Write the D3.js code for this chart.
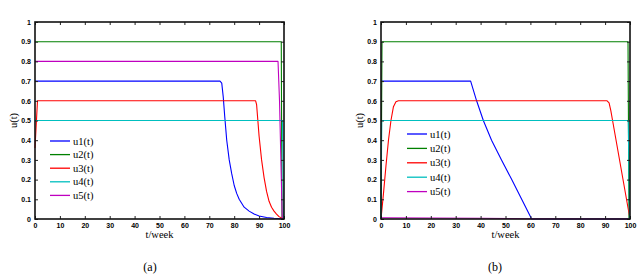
<!DOCTYPE html>
<html>
<head>
<meta charset="utf-8">
<script src="https://cdn.jsdelivr.net/npm/d3@7"></script>
<style>
  body { margin: 0; background: #fff; }
  .tick text { font-family: "Liberation Sans", Arial, sans-serif; font-weight: bold; font-size: 7px; }
  .lab { font-family: "Liberation Serif", "Times New Roman", serif; font-size: 10.5px; }
</style>
</head>
<body>
<div id="chart"></div>
<script>
// x ticks / y ticks
var xTicks = [0, 10, 20, 30, 40, 50, 60, 70, 80, 90, 100];
var yTicks = [0, 0.1, 0.2, 0.3, 0.4, 0.5, 0.6, 0.7, 0.8, 0.9, 1];
var seriesNames = ["u1(t)", "u2(t)", "u3(t)", "u4(t)", "u5(t)"];
var colors = ["#0000ff", "#008000", "#ff0000", "#00bfbf", "#bf00bf"];

// panel (a) - [t, u]
var a_u1 = [[0,0.7],[74.3,0.7],[75,0.69],[75.6,0.62],[76.2,0.52],[77,0.4],[78,0.3],[79,0.23],[80,0.17],[81,0.13],[82,0.1],[84,0.06],[86,0.04],[88,0.025],[90,0.015],[93,0.008],[96,0.004],[100,0]];
var a_u2 = [[0,0.9],[98.9,0.9],[99.2,0],[100,0]];
var a_u3 = [[0,0.36],[1,0.6],[88.6,0.6],[89,0.58],[89.5,0.5],[90,0.42],[91,0.3],[92,0.21],[93,0.14],[94,0.09],[95,0.06],[96,0.04],[97,0.025],[98,0.012],[99,0.005],[100,0]];
var a_u4 = [[0,0.5],[99.4,0.5],[99.8,0],[100,0]];
var a_u5 = [[0,0.8],[97.6,0.8],[98.2,0.6],[99.3,0],[100,0]];

// panel (b)
var b_u1 = [[0,0.7],[36,0.7],[38.4,0.6],[41.1,0.5],[44.4,0.4],[48.4,0.3],[52.5,0.2],[56.5,0.1],[60.5,0],[100,0]];
var b_u2 = [[0,0],[0.4,0.9],[99.2,0.9],[99.6,0],[100,0]];
var b_u3 = [[0,0],[1,0.13],[2,0.27],[3,0.4],[4,0.5],[5,0.57],[6,0.595],[7,0.6],[90.8,0.6],[91.6,0.59],[92.3,0.55],[93,0.5],[100,0]];
var b_u4 = [[0,0],[0.3,0.5],[99.3,0.5],[99.8,0],[100,0]];
var b_u5 = [[0,0.006],[20,0.005],[40,0.004],[60,0.001],[100,0]];

var panels = [
  {left: 35, right: 284, cap: "(a)", capX: 150, data: [a_u1, a_u2, a_u3, a_u4, a_u5], legX: 50, legY: 141, legStep: 13.6},
  {left: 381, right: 630, cap: "(b)", capX: 495, data: [b_u1, b_u2, b_u3, b_u4, b_u5], legX: 407, legY: 134, legStep: 14.4}
];
var plotTop = 22, plotBottom = 219;

var svg = d3.select("#chart").append("svg")
  .attr("width", 644)
  .attr("height", 278);

panels.forEach(function(p) {
  var x = d3.scaleLinear().domain([0, 100]).range([p.left, p.right]);
  var y = d3.scaleLinear().domain([0, 1]).range([plotBottom, plotTop]);
  var g = svg.append("g");

  // lines
  var line = d3.line().x(d => x(d[0])).y(d => y(d[1]));
  p.data.forEach(function(s, i) {
    g.append("path")
      .attr("d", line(s))
      .attr("fill", "none")
      .attr("stroke", colors[i])
      .attr("stroke-width", 1.1)
      .attr("stroke-linejoin", "round");
  });

  // axes, ticks inside
  var fmt = d => d === 1 ? "1" : d === 0 ? "0" : d3.format(".1f")(d);
  g.append("g").attr("transform", "translate(0," + plotBottom + ")")
    .call(d3.axisBottom(x).tickValues(xTicks).tickSizeInner(-3).tickSizeOuter(0).tickPadding(4));
  g.append("g").attr("transform", "translate(0," + plotTop + ")")
    .call(d3.axisTop(x).tickValues(xTicks).tickSizeInner(-3).tickSizeOuter(0).tickFormat(""));
  g.append("g").attr("transform", "translate(" + p.left + ",0)")
    .call(d3.axisLeft(y).tickValues(yTicks).tickSizeInner(-3).tickSizeOuter(0).tickPadding(4).tickFormat(fmt));
  g.append("g").attr("transform", "translate(" + p.right + ",0)")
    .call(d3.axisRight(y).tickValues(yTicks).tickSizeInner(-3).tickSizeOuter(0).tickFormat(""));
  g.selectAll(".domain").remove();
  g.selectAll(".tick line").attr("stroke", "#222");

  g.append("rect")
    .attr("x", p.left).attr("y", plotTop)
    .attr("width", p.right - p.left).attr("height", plotBottom - plotTop)
    .attr("fill", "none").attr("stroke", "#111").attr("stroke-width", 1.6);

  // legend
  seriesNames.forEach(function(n, i) {
    var ly = p.legY + i * p.legStep;
    g.append("line")
      .attr("x1", p.legX).attr("x2", p.legX + 20)
      .attr("y1", ly).attr("y2", ly)
      .attr("stroke", colors[i]).attr("stroke-width", 1.3);
    g.append("text").attr("class", "lab")
      .attr("x", p.legX + 23).attr("y", ly + 3.5)
      .text(n);
  });

  // labels
  g.append("text").attr("class", "lab")
    .attr("x", (p.left + p.right) / 2).attr("y", 238)
    .attr("text-anchor", "middle")
    .text("t/week");
  g.append("text").attr("class", "lab")
    .attr("transform", "translate(" + (p.left - 18) + "," + ((plotTop + plotBottom) / 2) + ") rotate(-90)")
    .attr("text-anchor", "middle")
    .text("u(t)");
  g.append("text").attr("class", "lab")
    .style("font-size", "12px")
    .attr("x", p.capX).attr("y", 271)
    .attr("text-anchor", "middle")
    .text(p.cap);
});
</script>
</body>
</html>
